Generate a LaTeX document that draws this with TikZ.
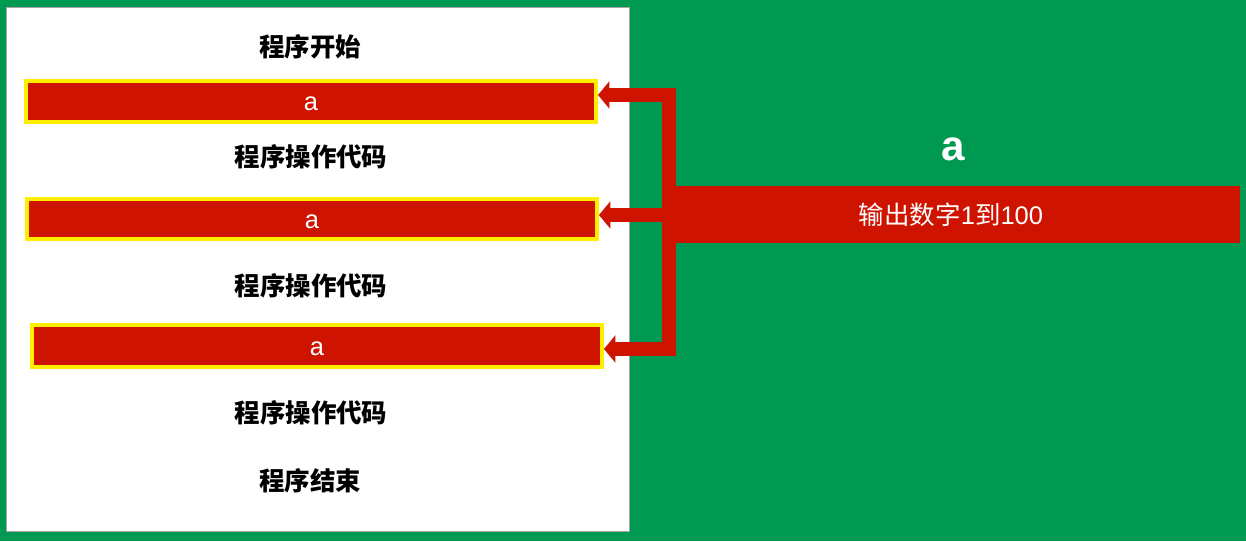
\documentclass[tikz,border=0pt]{standalone}
\usepackage{fontspec}
\setmainfont{Liberation Sans}
\newfontfamily\cjk{Noto Sans CJK SC}
\definecolor{bggreen}{RGB}{0,153,82}
\definecolor{barred}{RGB}{206,20,0}
\definecolor{baryellow}{RGB}{255,238,0}
\usetikzlibrary{arrows.meta,positioning}

\begin{document}
\begin{tikzpicture}[x=0.02cm,y=-0.02cm,
        step text/.style={font=\cjk\bfseries\fontsize{14.5}{17}\selectfont, text=black},
        varbar/.style={rectangle, fill=barred, draw=baryellow, line width=0.08cm, inner sep=0pt,
          minimum width=11.4cm, minimum height=0.82cm, text height=0.38cm, text depth=0pt,
          text=white, font=\fontsize{14.5}{17}\selectfont},
        trunk/.style={barred, line width=0.28cm, line cap=rect},
        arrow/.style={-{Triangle[length=0.23cm,width=0.54cm]}, barred, line width=0.28cm}
      ]
        \useasboundingbox (0,0) rectangle (1246,541);
        \fill[bggreen] (0,0) rectangle (1246,541);
        \fill[white, draw=black!35, line width=0.3pt] (6,7) rectangle (629,531);

        \node[step text] (start) at (310,47)  {程序开始};
        \node[varbar] (bar1) at (311,101.5) {a};
        \node[step text] (op1)   at (311,157) {程序操作代码};
        \node[varbar, minimum height=0.8cm] (bar2) at (312,219) {a};
        \node[step text] (op2)   at (311,286) {程序操作代码};
        \node[varbar, minimum height=0.84cm] (bar3) at (317,346) {a};
        \node[step text] (op3)   at (311,413) {程序操作代码};
        \node[step text] (stop)  at (310,481) {程序结束};

        \node[font=\bfseries\fontsize{24}{27}\selectfont, text=white, text height=0.62cm, text depth=0pt,
          inner sep=0pt] (vname) at (953,145) {a};
        \node[rectangle, fill=barred, inner sep=0pt, minimum width=11.56cm, minimum height=1.14cm,
          text=white, font=\fontsize{14.5}{17}\selectfont] (out) at (951,214.5) {{\cjk 输出数字}1{\cjk 到}100};

        \coordinate (j1) at (669,95);
        \coordinate (j2) at (669,215);
        \coordinate (j3) at (669,349);

        \draw[trunk] (j1) -- (j3);
        \draw[arrow] (j1) -- (j1 -| bar1.east);
        \draw[arrow] (j2) -- (j2 -| bar2.east);
        \draw[arrow] (j3) -- (j3 -| bar3.east);
      \end{tikzpicture}
\end{document}
